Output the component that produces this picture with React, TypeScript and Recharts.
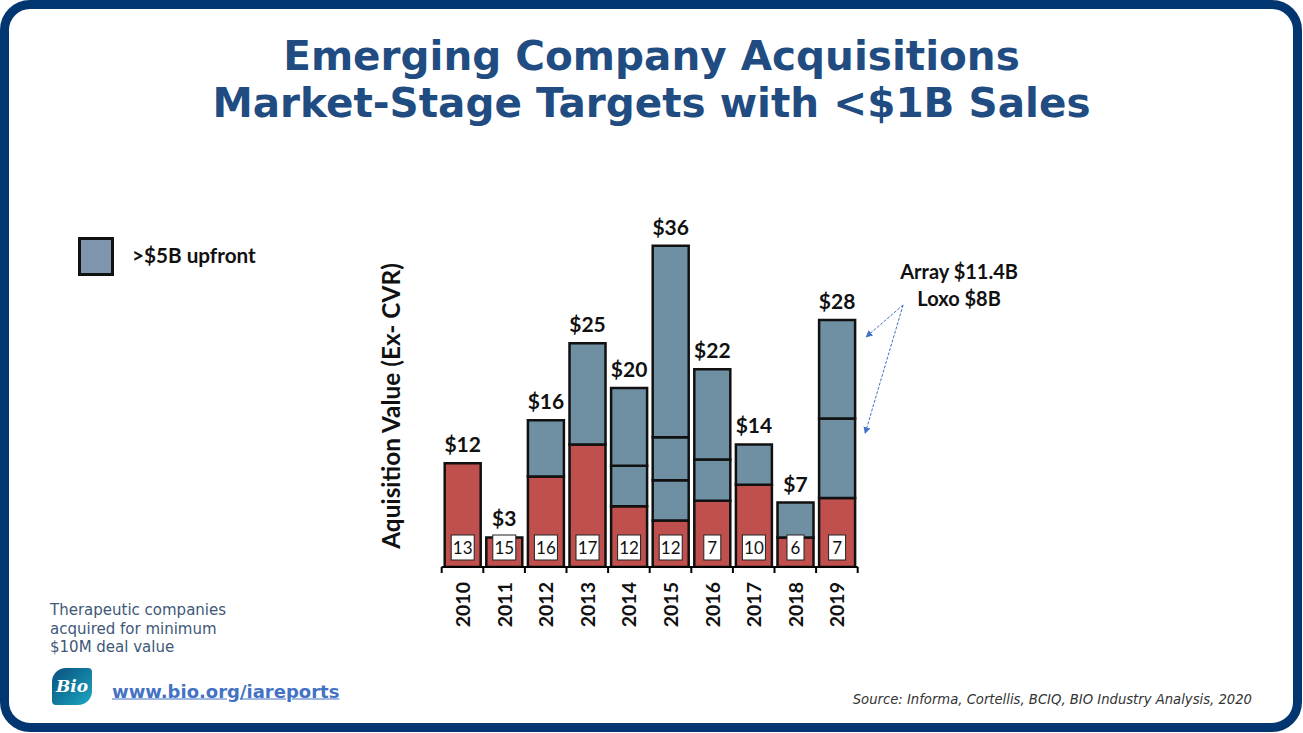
import React from 'react';
import { BarChart, Bar, XAxis, YAxis, LabelList } from 'recharts';

const years = ['2010', '2011', '2012', '2013', '2014', '2015', '2016', '2017', '2018', '2019'];
const otherDeals = [11.6, 3.3, 10.1, 13.7, 6.8, 5.2, 7.4, 9.2, 3.3, 7.7];
const bigDeal1 = [0, 0, 6.3, 11.3, 4.5, 4.5, 4.6, 4.5, 3.9, 8.9];
const bigDeal2 = [0, 0, 0, 0, 8.7, 4.8, 10.1, 0, 0, 11.0];
const bigDeal3 = [0, 0, 0, 0, 0, 21.4, 0, 0, 0, 0];
const totalLabels = ['$12', '$3', '$16', '$25', '$20', '$36', '$22', '$14', '$7', '$28'];
const dealCounts = [13, 15, 16, 17, 12, 12, 7, 10, 6, 7];
const annotationLines = ['Array $11.4B', 'Loxo $8B'];
const annotatedYear = '2019';

const seriesKeys = ['other', 'd1', 'd2', 'd3'];
const data = years.map((y, i) => {
  const row: any = {
    year: y,
    other: otherDeals[i],
    d1: bigDeal1[i],
    d2: bigDeal2[i],
    d3: bigDeal3[i],
    count: dealCounts[i],
    annot: y === annotatedYear ? 'yes' : '',
  };
  let top = 0;
  seriesKeys.forEach((k, j) => { if (row[k] > 0) top = j; });
  seriesKeys.forEach((k, j) => { row['top_' + k] = j === top ? totalLabels[i] : ''; });
  return row;
});

const FONT = 'Lato, "Open Sans", sans-serif';
const VFONT = '"DejaVu Sans", Verdana, sans-serif';
const RED = '#C0504D';
const GRAY = '#6F8FA3';

const TopLabel = (props: any) => {
  const { x, y, width, value } = props;
  if (!value) return null;
  return (
    <text x={x + width / 2} y={y - 11} textAnchor="middle" fontFamily={FONT} fontWeight={700} fontSize={21} fill="#111">
      {value}
    </text>
  );
};

const CountBox = (props: any) => {
  const { x, y, width, height, value } = props;
  const label = String(value);
  const bw = label.length > 1 ? 23 : 17;
  const bottom = y + height;
  const cx = x + width / 2;
  return (
    <g>
      <rect x={cx - bw / 2} y={bottom - 32} width={bw} height={25} fill="#fff" stroke="#222" strokeWidth={1} />
      <text x={cx} y={bottom - 19.5} textAnchor="middle" dominantBaseline="central" fontFamily={FONT} fontSize={17} fill="#111">
        {label}
      </text>
    </g>
  );
};

const Annotation = (props: any) => {
  const { x, y, width, height, value } = props;
  if (!value) return null;
  const right = x + width;
  const ox = right + 48;
  const oy = y - 15;
  return (
    <g>
      <defs>
        <marker id="arrowHead" viewBox="0 0 10 10" refX="9" refY="5" markerWidth="7" markerHeight="7" orient="auto">
          <path d="M0,0 L10,5 L0,10 z" fill="#4472C4" />
        </marker>
      </defs>
      <line x1={ox} y1={oy} x2={right + 11} y2={y + 17} stroke="#4472C4" strokeWidth={1} strokeDasharray="3 1.5" markerEnd="url(#arrowHead)" />
      <line x1={ox} y1={oy} x2={right + 10} y2={y + height + 15} stroke="#4472C4" strokeWidth={1} strokeDasharray="3 1.5" markerEnd="url(#arrowHead)" />
      {annotationLines.map((t, i) => (
        <text key={t} x={right + 104} y={y - 49 + i * 27} textAnchor="middle" dominantBaseline="central" fontFamily={FONT} fontWeight={700} fontSize={20} fill="#111">
          {t}
        </text>
      ))}
    </g>
  );
};

const YearTick = (props: any) => {
  const { x, y, payload, index } = props;
  const half = payload && payload.offset ? payload.offset : 20.8;
  const last = index === years.length - 1;
  return (
    <g>
      <line x1={x - half} y1={y} x2={x - half} y2={y + 6} stroke="#000" strokeWidth={2} />
      {last && <line x1={x + half} y1={y} x2={x + half} y2={y + 6} stroke="#000" strokeWidth={2} />}
      <text transform={`translate(${x},${y + 15}) rotate(-90)`} textAnchor="end" dominantBaseline="central" fontFamily={FONT} fontWeight={700} fontSize={19.5} fill="#111">
        {payload.value}
      </text>
    </g>
  );
};

export default function App() {
  return (
    <div style={{ position: 'fixed', left: 0, top: 0, width: 1303, height: 733, background: '#fff', overflow: 'hidden' }}>
      <div style={{ position: 'absolute', left: 0, top: 0, width: 1302, height: 732, boxSizing: 'border-box', border: '9px solid #023670', borderRadius: 30 }} />
      <div style={{ position: 'absolute', left: 0, top: 33, width: 1303, textAlign: 'center', fontFamily: VFONT, fontWeight: 700, fontSize: 40.5, lineHeight: '47px', color: '#204C82' }}>
        <div>Emerging Company Acquisitions</div>
        <div>Market-Stage Targets with &lt;$1B Sales</div>
      </div>

      <div style={{ position: 'absolute', left: 0, top: 0 }}>
        <BarChart width={1303} height={733} data={data} margin={{ top: 209, left: 441.7, right: 445.3, bottom: 106 }} barSize={36}>
          <YAxis hide domain={[0, 40]} allowDataOverflow />
          <XAxis dataKey="year" height={60} interval={0} tickLine={false} tickSize={0} tickMargin={0} axisLine={{ stroke: '#000', strokeWidth: 2 }} tick={<YearTick />} />
          <Bar dataKey="other" stackId="a" fill={RED} stroke="#111" strokeWidth={2.5} isAnimationActive={false}>
            <LabelList dataKey="count" content={CountBox} />
            <LabelList dataKey="top_other" content={TopLabel} />
          </Bar>
          <Bar dataKey="d1" stackId="a" fill={GRAY} stroke="#111" strokeWidth={2.5} isAnimationActive={false}>
            <LabelList dataKey="top_d1" content={TopLabel} />
          </Bar>
          <Bar dataKey="d2" stackId="a" fill={GRAY} stroke="#111" strokeWidth={2.5} isAnimationActive={false}>
            <LabelList dataKey="top_d2" content={TopLabel} />
            <LabelList dataKey="annot" content={Annotation} />
          </Bar>
          <Bar dataKey="d3" stackId="a" fill={GRAY} stroke="#111" strokeWidth={2.5} isAnimationActive={false}>
            <LabelList dataKey="top_d3" content={TopLabel} />
          </Bar>
        </BarChart>
      </div>

      <div style={{ position: 'absolute', left: 390, top: 406, transform: 'translate(-50%, -50%) rotate(-90deg)', whiteSpace: 'nowrap', fontFamily: FONT, fontWeight: 700, fontSize: 24.4, color: '#111' }}>
        Aquisition Value (Ex- CVR)
      </div>

      <div style={{ position: 'absolute', left: 78, top: 237, width: 36, height: 39, boxSizing: 'border-box', border: '3px solid #111', background: '#7F95AE' }} />
      <div style={{ position: 'absolute', left: 132, top: 255, transform: 'translateY(-50%)', whiteSpace: 'nowrap', fontFamily: FONT, fontWeight: 700, fontSize: 20.7, color: '#111' }}>
        &gt;$5B upfront
      </div>

      <div style={{ position: 'absolute', left: 50, top: 601, fontFamily: VFONT, fontSize: 15, lineHeight: '18.5px', color: '#3E5878' }}>
        <div>Therapeutic companies</div>
        <div>acquired for minimum</div>
        <div>$10M deal value</div>
      </div>

      <div style={{ position: 'absolute', left: 52, top: 668, width: 40, height: 37, borderRadius: '14px 4px 14px 4px', background: 'linear-gradient(135deg, #0B4F7C 0%, #127FA3 55%, #1FA9C2 100%)', color: '#fff', fontFamily: '"DejaVu Serif", serif', fontStyle: 'italic', fontWeight: 700, fontSize: 17, lineHeight: '37px', textAlign: 'center', overflow: 'hidden' }}>
        Bio
      </div>
      <div style={{ position: 'absolute', left: 112, top: 691, transform: 'translateY(-50%)', whiteSpace: 'nowrap', fontFamily: VFONT, fontWeight: 700, fontSize: 18, color: '#4472C4', textDecoration: 'underline' }}>
        www.bio.org/iareports
      </div>

      <div style={{ position: 'absolute', right: 1303 - 1252, top: 699, transform: 'translateY(-50%)', whiteSpace: 'nowrap', fontFamily: VFONT, fontStyle: 'italic', fontSize: 13.2, color: '#333' }}>
        Source: Informa, Cortellis, BCIQ, BIO Industry Analysis, 2020
      </div>
    </div>
  );
}
